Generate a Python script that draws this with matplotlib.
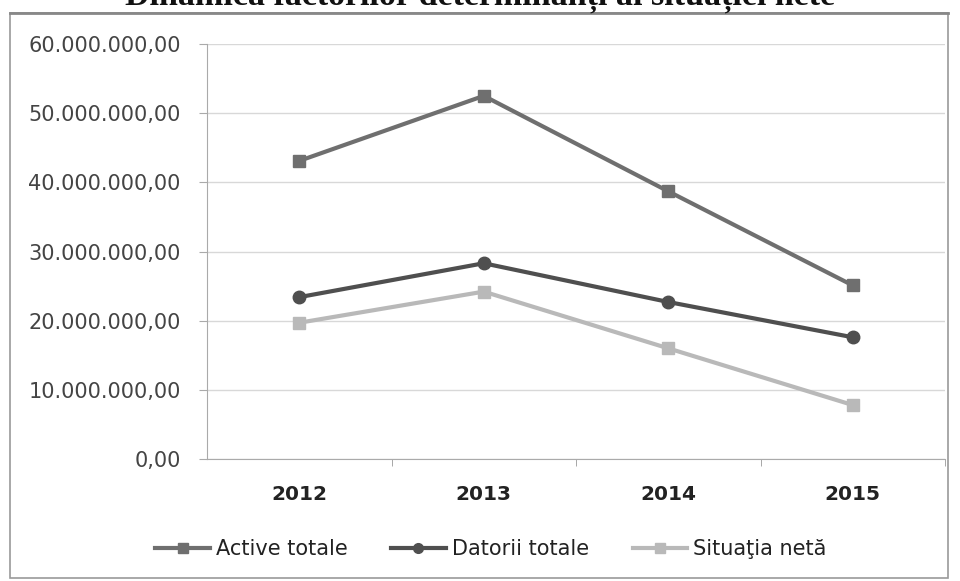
import matplotlib.pyplot as plt
from matplotlib.patches import Rectangle
from matplotlib.lines import Line2D
from matplotlib.ticker import FuncFormatter

years = ["2012", "2013", "2014", "2015"]
active_totale = [43.1e6, 52.5e6, 38.7e6, 25.1e6]
datorii_totale = [23.4e6, 28.3e6, 22.7e6, 17.6e6]
situatia_neta = [19.7e6, 24.2e6, 16.0e6, 7.8e6]
series_names = ["Active totale", "Datorii totale", "Situaţia netă"]


def ro_number(x, pos):
    # 60000000 -> 60.000.000,00
    s = "{:,.2f}".format(x)
    return s.replace(",", "X").replace(".", ",").replace("X", ".")


fig = plt.figure(figsize=(9.6, 5.81), dpi=100)
ax = fig.add_axes([207 / 960, 1 - 459 / 581, 738 / 960, 415 / 581])

xs = range(len(years))
ax.plot(xs, active_totale, color="#6f6f6f", lw=3, marker="s", ms=9,
        label=series_names[0], zorder=3)
ax.plot(xs, datorii_totale, color="#4f4f4f", lw=3, marker="o", ms=9,
        label=series_names[1], zorder=3)
ax.plot(xs, situatia_neta, color="#b9b9b9", lw=3, marker="s", ms=9,
        label=series_names[2], zorder=3)

ax.set_xlim(-0.5, 3.5)
ax.set_ylim(0, 60e6)
ax.set_yticks([i * 10e6 for i in range(7)])
ax.yaxis.set_major_formatter(FuncFormatter(ro_number))
ax.grid(axis="y", color="#d8d8d8", lw=1)
ax.set_axisbelow(True)

ax.set_xticks(list(xs))
ax.set_xticklabels(years, fontsize=14.5, fontweight="bold", color="#222222")
ax.set_xticks([0.5, 1.5, 2.5, 3.5], minor=True)
ax.tick_params(axis="x", which="major", length=0, pad=19)
ax.tick_params(axis="x", which="minor", length=5, color="#999999", direction="out")
ax.tick_params(axis="y", length=6, color="#aaaaaa", labelsize=15,
               labelcolor="#444444", pad=13)

for side in ["top", "right"]:
    ax.spines[side].set_visible(False)
ax.spines["left"].set_color("#aaaaaa")
ax.spines["bottom"].set_color("#aaaaaa")

# smaller markers in the legend keys
handles = [Line2D([], [], color=l.get_color(), lw=3, marker=l.get_marker(), ms=7)
           for l in ax.get_lines()]
leg = fig.legend(handles, series_names, loc="center",
                 bbox_to_anchor=(491 / 960, 1 - 549 / 581), ncol=3,
                 frameon=False, fontsize=15, handlelength=2.6,
                 columnspacing=2.1, handletextpad=0.3)
for t in leg.get_texts():
    t.set_color("#222222")

# chart frame
fig.patches.append(Rectangle((10 / 960, 3 / 581), 938 / 960, 565 / 581,
                             transform=fig.transFigure, fill=False,
                             edgecolor="#9a9a9a", lw=1.2))
fig.lines.append(Line2D([10 / 960, 948 / 960], [1 - 13 / 581, 1 - 13 / 581],
                        transform=fig.transFigure, color="#888888", lw=2))

fig.text(0.5, 1 - 5 / 581, "Dinamica factorilor determinanți ai situației nete",
         ha="center", va="baseline", fontsize=24.5, fontweight="bold",
         family="Liberation Serif", color="#111111")

fig.savefig("out.png", dpi=100)
